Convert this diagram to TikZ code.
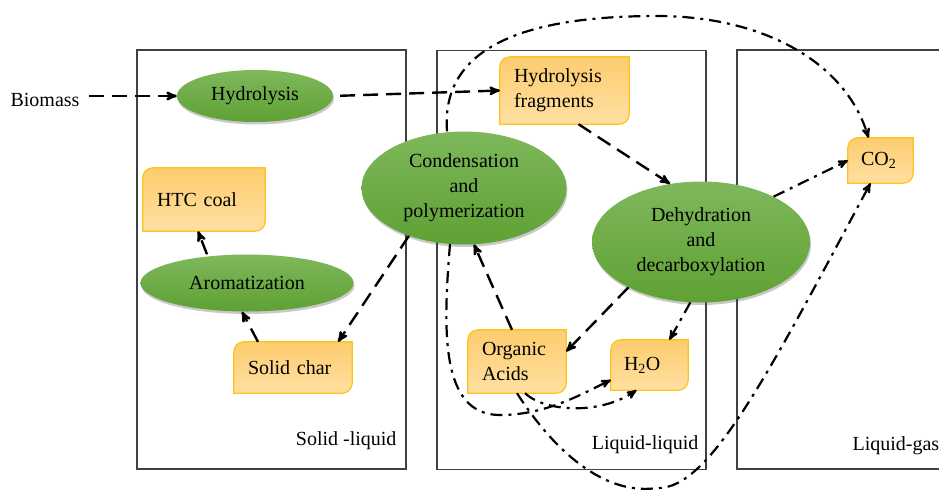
\documentclass[tikz,border=0pt]{standalone}
\usepackage{fontspec}
\setmainfont{Liberation Serif}
\usetikzlibrary{shapes, shadows, positioning, arrows, backgrounds, calc}
\definecolor{leafTop}{HTML}{7EB85B}
\definecolor{leafBottom}{HTML}{5FA134}
\definecolor{boxTop}{HTML}{FDCC6E}
\definecolor{boxBottom}{HTML}{FFE0A2}
\definecolor{boxEdge}{HTML}{FFC21A}
\colorlet{zoneColor}{black!75}
\tikzstyle{process}=[ellipse, align=center, inner sep=0pt, top color=leafTop,
  bottom color=leafBottom, drop shadow={shadow xshift=1pt, shadow yshift=-2.5pt,
  opacity=0.3, fill=black!70}]
\tikzstyle{product}=[rectangle, align=left, inner xsep=14pt, inner ysep=0pt]
\tikzstyle{productFill}=[draw=boxEdge, line width=1.2pt, top color=boxTop,
  bottom color=boxBottom]
\tikzstyle{zone}=[rectangle, draw=zoneColor, line width=1.3pt, minimum width=269pt,
  minimum height=419pt, inner sep=0pt]
\tikzstyle{zoneLabel}=[inner sep=0pt]
\tikzstyle{arrow}=[->, >=stealth', line width=2.4pt, dash pattern=on 15pt off 8pt]
\tikzstyle{gasArrow}=[->, >=stealth', line width=2.2pt,
  dash pattern=on 12pt off 6pt on 3pt off 6pt]

\begin{document}
\begin{tikzpicture}[x=1pt, y=-1pt, font=\fontsize{20}{25}\selectfont]
      \useasboundingbox (0,0) rectangle (939,491);
      % reaction zones
      \node (solidZone) [zone] at (271.5,259.5) {};
      \node (liquidZone) [zone] at (571.5,260) {};
      \node (gasZone) [zone] at (871.5,259.5) {};
      \node (solidLabel) [zoneLabel, above left=20pt and 10pt of solidZone.south east] {Solid -liquid};
      \node (liquidLabel) [zoneLabel, above left=16pt and 8pt of liquidZone.south east] {Liquid-liquid};
      \node (gasLabel) [zoneLabel, above right=15pt and 116pt of gasZone.south west] {Liquid-gas};
      % processes
      \node (biomass) at (45,100) {Biomass};
      \node (hydro) [process, minimum width=156pt, minimum height=52pt] at (255,96) {Hydrolysis};
      \node (cond) [process, minimum width=205pt, minimum height=113pt] at (464,188) {Condensation\\and\\polymerization};
      \node (dehyd) [process, minimum width=218pt, minimum height=121pt] at (701,242) {Dehydration\\and\\decarboxylation};
      \node (arom) [process, minimum width=213pt, minimum height=57pt] at (247,283) {Aromatization};
      % products
      \node (htc) [product, text width=94pt, minimum height=63pt] at (204,199.5) {HTC coal};
      \node (char) [product, text width=90pt, minimum height=51pt] at (293,367.5) {Solid char};
      \node (frag) [product, text width=101pt, minimum height=67pt] at (564.5,90.5) {Hydrolysis\\fragments};
      \node (acids) [product, text width=70pt, minimum height=63pt] at (517,361.5) {Organic\\Acids};
      \node (water) [product, text width=51pt, inner xsep=13pt, minimum height=50pt] at (649.5,365) {H\textsubscript{2}O};
      \node (co2) [product, text width=39pt, inner xsep=13pt, minimum height=45pt] at (880.5,160.5) {CO\textsubscript{2}};
      \begin{scope}[on background layer]
        \foreach \n in {htc, char, frag, acids, water, co2}
          \path [productFill] (\n.south west) -- ([yshift=-10pt]\n.north west)
            arc[start angle=180, end angle=90, radius=10pt] -- (\n.north east)
            -- ([yshift=10pt]\n.south east) arc[start angle=0, end angle=-90, radius=10pt] -- cycle;
      \end{scope}
      % liquid pathways
      \draw [arrow, shorten <=6pt] (biomass.east |- hydro) -- (hydro.west);
      \draw [arrow, shorten <=7pt] (hydro.east) -- (frag.west);
      \draw [arrow] ([xshift=14pt]frag.south) -- (dehyd.118);
      \draw [arrow] (dehyd.212) -- ([yshift=10pt]acids.east);
      \draw [arrow] ([xshift=-5pt]acids.north) -- (cond.-80);
      \draw [arrow] (cond.221) -- ([xshift=-14pt]char.north east);
      \draw [arrow] ([xshift=-35pt]char.north) -- ([xshift=-5pt]arom.south);
      \draw [arrow] ([xshift=-40pt]arom.north) -- ([xshift=-6pt]htc.south);
      % gas and water release
      \draw [gasArrow] (dehyd.32) -- (co2.west);
      \draw [gasArrow] (dehyd.-100) -- ([xshift=20pt]water.north);
      \draw [gasArrow] ([xshift=-17pt]cond.north) .. controls (440,40) and (540,16) .. (657,16)
        .. controls (760,16) and (845,60) .. ([xshift=-12pt]co2.north);
      \draw [gasArrow] (cond.-104) .. controls (443,330) and (440,415) .. (500,415)
        .. controls (545,415) and (580,395) .. ([yshift=-15pt]water.west);
      \draw [gasArrow] ([xshift=8pt]acids.south) .. controls (545,412) and (600,415) .. ([xshift=-13pt]water.south);
      \draw [gasArrow] (acids.south) .. controls (560,460) and (610,495) .. (657,488)
        .. controls (710,490) and (770,370) .. ([xshift=-10pt]co2.south);
    \end{tikzpicture}
\end{document}
